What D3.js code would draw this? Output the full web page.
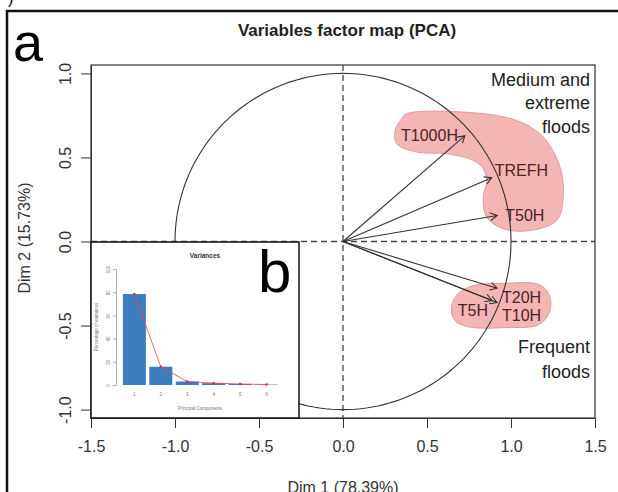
<!DOCTYPE html>
<html>
<head>
<meta charset="utf-8">
<script src="https://cdn.jsdelivr.net/npm/d3@7"></script>
<style>
  body { margin: 0; background: #fff; }
  text { font-family: "Liberation Sans", Arial, sans-serif; }
</style>
</head>
<body>
<svg id="chart" width="618" height="492"></svg>
<script>
// variables (arrow coordinates on Dim 1 / Dim 2)
const varNames = ["T1000H", "TREFH", "T50H", "T20H", "T10H", "T5H"];
const dim1 = [0.726, 0.885, 0.918, 0.917, 0.917, 0.887];
const dim2 = [0.63, 0.379, 0.155, -0.278, -0.363, -0.351];

// scree plot (inset b)
const components = [1, 2, 3, 4, 5, 6];
const variances = [78.39, 15.73, 3.0, 1.6, 0.9, 0.38];

const xTicks = [-1.5, -1.0, -0.5, 0.0, 0.5, 1.0, 1.5];
const yTicks = [-1.0, -0.5, 0.0, 0.5, 1.0];
const screeTicks = [0, 20, 40, 60, 80, 100];

// highlighted groups, outlines in Dim 1 / Dim 2 units
const groupMedium = [
  [0.379, 0.760], [0.716, 0.770], [1.034, 0.720], [1.192, 0.621], [1.292, 0.442],
  [1.311, 0.264], [1.272, 0.125], [1.113, 0.065], [0.954, 0.076], [0.855, 0.145],
  [0.835, 0.264], [0.855, 0.363], [0.835, 0.433], [0.776, 0.482], [0.617, 0.522],
  [0.439, 0.532], [0.320, 0.582], [0.310, 0.661], [0.349, 0.730]
];
const groupFrequent = [
  [0.696, -0.302], [0.776, -0.262], [0.974, -0.248], [1.153, -0.252], [1.213, -0.292],
  [1.238, -0.371], [1.213, -0.451], [1.153, -0.500], [0.974, -0.512], [0.776, -0.512],
  [0.677, -0.480], [0.647, -0.430], [0.657, -0.351]
];

// label placement next to arrow heads: [dx, dy, anchor]
const labelPlace = [[-7, 0, "end"], [3, -8, "start"], [8, 0, "start"],
                    [5, 9, "start"], [5, 13, "start"], [-4, 10, "end"]];

const svg = d3.select("#chart");

svg.append("rect").attr("width", 618).attr("height", 492).attr("fill", "#fff");

// outer frame of the figure
svg.append("rect")
  .attr("x", 7).attr("y", 11).attr("width", 700).attr("height", 600)
  .attr("fill", "none").attr("stroke", "#111").attr("stroke-width", 2.5);
svg.append("text").attr("x", 8).attr("y", 4).attr("font-size", 16).text(")");

const x = d3.scaleLinear().domain([-1.5, 1.5]).range([91, 595]);
const y = d3.scaleLinear().domain([-1.05, 1.05]).range([418, 65]);

// letter a
svg.append("text").attr("x", 13).attr("y", 61)
  .attr("font-family", "Open Sans").attr("font-size", 54).attr("fill", "#000").text("a");

// title
svg.append("text").attr("x", 347).attr("y", 36).attr("text-anchor", "middle")
  .attr("font-size", 17).attr("font-weight", "bold").attr("fill", "#222")
  .text("Variables factor map (PCA)");

// highlight blobs
const blob = d3.line().x(d => x(d[0])).y(d => y(d[1])).curve(d3.curveCatmullRomClosed.alpha(0.5));
[groupMedium, groupFrequent].forEach(g => {
  svg.append("path").attr("d", blob(g))
    .attr("fill", "#f4b5b5").attr("stroke", "#e19b9b").attr("stroke-width", 1);
});

// dashed axes
svg.append("line").attr("x1", x(-1.5)).attr("x2", x(1.5)).attr("y1", y(0)).attr("y2", y(0))
  .attr("stroke", "#444").attr("stroke-width", 1.3).attr("stroke-dasharray", "6,4");
svg.append("line").attr("x1", x(0)).attr("x2", x(0)).attr("y1", y(1.05)).attr("y2", y(-1.05))
  .attr("stroke", "#444").attr("stroke-width", 1.3).attr("stroke-dasharray", "6,4");

// correlation circle
const circ = d3.range(0, 361, 2).map(a => [Math.cos(a * Math.PI / 180), Math.sin(a * Math.PI / 180)]);
svg.append("path").attr("d", d3.line().x(d => x(d[0])).y(d => y(d[1]))(circ))
  .attr("fill", "none").attr("stroke", "#333").attr("stroke-width", 1.1);

// arrows
const arrows = svg.append("g").attr("stroke", "#333").attr("stroke-width", 1.1).attr("fill", "none");
varNames.forEach((name, i) => {
  const x0 = x(0), y0 = y(0), x1 = x(dim1[i]), y1 = y(dim2[i]);
  const ang = Math.atan2(y1 - y0, x1 - x0);
  const hl = 8, ha = Math.PI / 6;
  arrows.append("path").attr("d",
    `M${x0},${y0}L${x1},${y1}` +
    `M${x1 - hl * Math.cos(ang - ha)},${y1 - hl * Math.sin(ang - ha)}L${x1},${y1}` +
    `L${x1 - hl * Math.cos(ang + ha)},${y1 - hl * Math.sin(ang + ha)}`);
  const p = labelPlace[i];
  svg.append("text").attr("x", x1 + p[0]).attr("y", y1 + p[1]).attr("dy", "0.36em")
    .attr("text-anchor", p[2]).attr("font-size", 16).attr("fill", "#4a2424").text(name);
});

// group annotations
const note = svg.append("g").attr("font-family", "Open Sans").attr("font-size", 18)
  .attr("fill", "#222").attr("text-anchor", "end");
[["Medium and", 80], ["extreme", 103], ["floods", 127], ["Frequent", 347], ["floods", 372]]
  .forEach(([t, yy]) => note.append("text").attr("x", 590).attr("y", yy).attr("dy", "0.36em").text(t));

// x axis
const gx = svg.append("g").attr("transform", `translate(0,${y(-1.05)})`)
  .call(d3.axisBottom(x).tickValues(xTicks).tickFormat(d => d.toFixed(1)).tickSize(10).tickSizeOuter(0));
gx.select(".domain").attr("stroke", "#333");
gx.selectAll(".tick line").attr("stroke", "#333");
gx.selectAll("text").attr("y", 23).attr("font-size", 16).attr("fill", "#333")
  .attr("font-family", "Liberation Sans");

// y axis
const gy = svg.append("g").attr("transform", `translate(${x(-1.5)},0)`)
  .call(d3.axisLeft(y).tickValues(yTicks).tickFormat(d => d.toFixed(1)).tickSize(10).tickSizeOuter(0));
gy.select(".domain").attr("stroke", "#333");
gy.selectAll(".tick line").attr("stroke", "#333");
gy.selectAll("text").attr("transform", "rotate(-90)").attr("x", 0).attr("y", -20).attr("dy", 0)
  .attr("text-anchor", "middle").attr("font-size", 16).attr("fill", "#333")
  .attr("font-family", "Liberation Sans");

// plot box
svg.append("rect").attr("x", x(-1.5)).attr("y", y(1.05))
  .attr("width", x(1.5) - x(-1.5)).attr("height", y(-1.05) - y(1.05))
  .attr("fill", "none").attr("stroke", "#333").attr("stroke-width", 1.2);

svg.append("text").attr("x", x(0)).attr("y", 493).attr("text-anchor", "middle")
  .attr("font-size", 16).attr("fill", "#333").text("Dim 1 (78.39%)");
svg.append("text").attr("transform", "translate(30,238) rotate(-90)").attr("text-anchor", "middle")
  .attr("font-size", 16).attr("fill", "#333").text("Dim 2 (15.73%)");

// inset b: scree plot
const inset = svg.append("g");
inset.append("rect").attr("x", 91).attr("y", 242).attr("width", 208).attr("height", 176)
  .attr("fill", "#fff").attr("stroke", "#111").attr("stroke-width", 1.5);

const bx = d3.scaleBand().domain(components).range([121, 280]).paddingInner(0.13).paddingOuter(0.07);
const by = d3.scaleLinear().domain([0, 100]).range([385, 269]);

inset.append("text").attr("x", 205).attr("y", 258).attr("text-anchor", "middle")
  .attr("font-size", 6.5).attr("font-weight", "bold").attr("fill", "#333").text("Variances");

inset.selectAll("rect.bar").data(variances).join("rect").attr("class", "bar")
  .attr("x", (d, i) => bx(components[i])).attr("width", bx.bandwidth())
  .attr("y", d => by(d)).attr("height", d => by(0) - by(d))
  .attr("fill", "#3b7dbd");

const screeLine = d3.line().x((d, i) => bx(components[i]) + bx.bandwidth() / 2).y(d => by(d));
inset.append("path").attr("d", screeLine(variances))
  .attr("fill", "none").attr("stroke", "#e84848").attr("stroke-width", 0.8);
inset.selectAll("circle").data(variances).join("circle")
  .attr("cx", (d, i) => bx(components[i]) + bx.bandwidth() / 2).attr("cy", d => by(d))
  .attr("r", 1.3).attr("fill", "#d83030");

const iy = inset.append("g").attr("transform", "translate(116,0)")
  .call(d3.axisLeft(by).tickValues(screeTicks).tickSize(3).tickSizeOuter(0));
iy.select(".domain").attr("stroke", "#777").attr("stroke-width", 0.6);
iy.selectAll(".tick line").attr("stroke", "#777").attr("stroke-width", 0.6);
iy.selectAll("text").attr("transform", "rotate(-90)").attr("x", 0).attr("y", -6).attr("dy", 0)
  .attr("text-anchor", "middle").attr("font-size", 4.5).attr("fill", "#777");

components.forEach(c => {
  inset.append("text").attr("x", bx(c) + bx.bandwidth() / 2).attr("y", 396)
    .attr("text-anchor", "middle").attr("font-size", 4.5).attr("fill", "#777").text(c);
});
inset.append("text").attr("x", 200).attr("y", 410).attr("text-anchor", "middle")
  .attr("font-size", 4.5).attr("fill", "#777").text("Principal Components");
inset.append("text").attr("transform", "translate(98,327) rotate(-90)").attr("text-anchor", "middle")
  .attr("font-size", 4.5).attr("fill", "#777").text("Percentage of variances");

// letter b
inset.append("text").attr("x", 258).attr("y", 292)
  .attr("font-family", "Open Sans").attr("font-size", 60).attr("fill", "#000").text("b");
</script>
</body>
</html>
